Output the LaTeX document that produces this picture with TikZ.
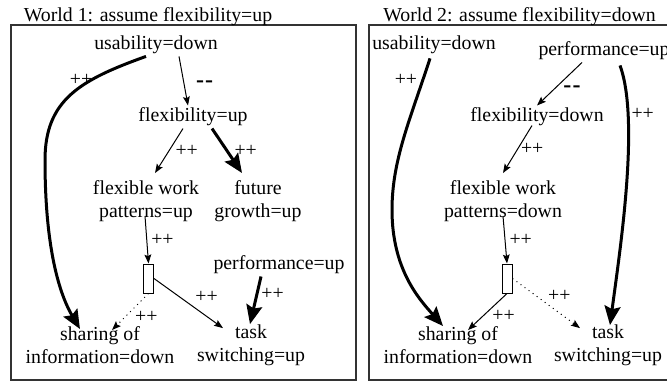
\documentclass[tikz,border=0pt]{standalone}
\usepackage{fontspec}
\setmainfont{Liberation Serif}
\usetikzlibrary{arrows.meta, calc}

\begin{document}
\begin{tikzpicture}[x=0.5pt, y=-0.5pt,
    every node/.style={font=\fontsize{9.9}{11.5}\selectfont, align=center, inner sep=1pt},
    thinlink/.style={line width=0.5pt, -{Stealth[length=4.5pt, width=3.4pt, inset=0.8pt]}},
    thicklink/.style={line width=1.5pt, -{Stealth[length=9.5pt, width=8pt, inset=1.5pt]}},
    dotlink/.style={thinlink, dotted},
    minus/.style={font=\fontsize{12}{12}\selectfont\bfseries},
    gate/.style={draw, line width=0.5pt, inner sep=0pt, minimum width=5pt, minimum height=14.5pt},
    world/.style={draw=black!80, line width=0.6pt}]
  \useasboundingbox (0,0) rectangle (667,382);

  % --- World 1: flexibility=up ---
  \begin{scope}
    \draw[world] (11,25) rectangle (356,380);
    \node (title1) at (148,17) {World 1: assume flexibility=up};

    \node (ud1) at (156,45) {usability=down};
    \node (fx1) at (193,117) {flexibility=up};
    \node (fw1) at (146,201) {flexible work\\patterns=up};
    \node (fg1) at (258,201) {future\\growth=up};
    \node[gate] (g1) at (148.5,278.5) {};
    \node (pf1) at (279,265) {performance=up};
    \node (ts1) at (251,345) {task\\switching=up};
    \node (si1) at (100,345) {sharing of\\information=down};

    \draw[thinlink] ($(ud1.south)+(23,0)$) -- ($(fx1.north)+(-5,0)$) node[midway, right=5pt, yshift=-1.5pt, minus] {-\kern0.6pt-};
    \draw[thicklink] ($(ud1.south)+(-10,0)$) .. controls (80,80) and (45,100) .. (45,160)
      node[pos=0.3, xshift=-7pt, yshift=-1pt] {++}
      .. controls (45,250) and (60,295) .. ($(si1.north)+(-20,5)$);
    \draw[thinlink] ($(fx1.south)+(-10,0)$) -- ($(fw1.north)+(9,-5)$) node[midway, right=2pt] {++};
    \draw[thicklink] ($(fx1.south)+(19,0)$) -- ($(fg1.north)+(-16,-5)$) node[midway, right=2pt] {++};
    \draw[thinlink] ($(fw1.south)+(-1,-8)$) -- (g1.north) node[midway, right=1pt] {++};
    \draw[thinlink] (g1.east) -- ($(ts1.north)+(-28,6)$) node[midway, xshift=9pt, yshift=3pt] {++};
    \draw[dotlink] (g1.south) -- ($(si1.north)+(12,6)$) node[midway, xshift=8pt, yshift=-2.5pt] {++};
    \draw[thicklink] ($(pf1.south)+(-18,0)$) -- ($(ts1.north)+(-1,2)$) node[midway, xshift=8.5pt, yshift=3pt] {++};
  \end{scope}

  % --- World 2: flexibility=down ---
  \begin{scope}
    \draw[world] (369,25) rectangle (680,380);
    \node (title2) at (519.5,17) {World 2: assume flexibility=down};

    \node (ud2) at (434,45) {usability=down};
    \node (pf2) at (604,51) {performance=up};
    \node (fx2) at (537,117) {flexibility=down};
    \node (fw2) at (503,201) {flexible work\\patterns=down};
    \node[gate] (g2) at (507,278.5) {};
    \node (si2) at (458,345) {sharing of\\information=down};
    \node (ts2) at (608,345) {task\\switching=up};

    \draw[thinlink] ($(pf2.south)+(-22,0)$) -- (fx2.north) node[midway, xshift=6.2pt, yshift=-2.5pt, minus] {-\kern0.6pt-};
    \draw[thicklink] ($(ud2.south)+(-4,2)$) .. controls (410,120) and (392,160) .. (392,210)
      node[pos=0.12, xshift=-8.5pt] {++}
      .. controls (392,270) and (420,300) .. ($(si2.north)+(-15,2)$);
    \draw[thicklink] ($(pf2.south)+(16,3)$) .. controls (640,120) and (620,250) .. ($(ts2.north)+(2,3)$)
      node[pos=0.23, right=0pt] {++};
    \draw[thinlink] ($(fx2.south)+(-5,-3)$) -- ($(fw2.north)+(0,-5)$) node[midway, right=0.5pt] {++};
    \draw[thinlink] ($(fw2.south)+(0,-8)$) -- (g2.north) node[midway, right=1pt] {++};
    \draw[thinlink] (g2.south) -- ($(si2.north)+(10,6)$) node[midway, xshift=8pt, yshift=-2pt] {++};
    \draw[dotlink] (g2.east) -- ($(ts2.north)+(-28,6)$) node[midway, xshift=6.5pt, yshift=3.5pt] {++};
  \end{scope}
\end{tikzpicture}
\end{document}
